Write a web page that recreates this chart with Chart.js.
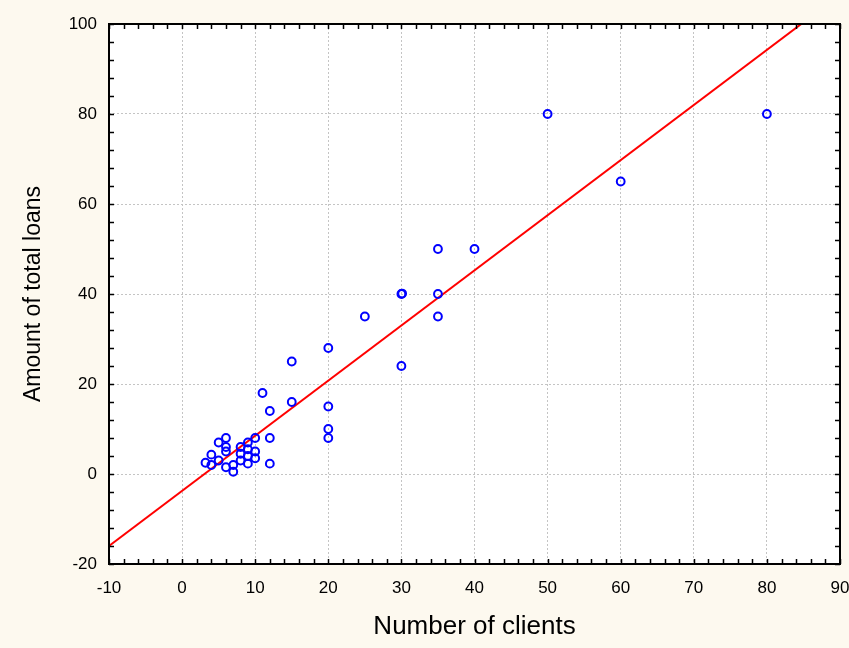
<!DOCTYPE html>
<html>
<head>
<meta charset="utf-8">
<script src="https://cdn.jsdelivr.net/npm/chart.js@4/dist/chart.umd.min.js"></script>
<style>
  html, body { margin: 0; padding: 0; background: #fdf9ef; }
  #wrap { width: 849px; height: 648px; position: relative; }
</style>
</head>
<body>
<div id="wrap"><canvas id="c" width="849" height="648"></canvas></div>
<script>
// Data
const clients = [50, 80, 60, 35, 40, 30, 30.1, 35, 25, 35, 30, 20, 15, 11, 15, 20, 12, 20, 20, 12, 10, 12, 10, 10, 9, 9, 9, 9, 8, 8, 8, 7, 7, 6, 6, 6, 6, 5, 5, 4, 4, 3.2];
const loans   = [80, 80, 65, 50, 50, 40, 40.1, 40, 35, 35, 24, 28, 25, 18, 16, 15, 14, 10, 8, 8, 8, 2.3, 5, 3.5, 7, 5.5, 4, 2.3, 6, 4.5, 3, 2, 0.5, 8, 6, 5, 1.5, 7, 3, 4.3, 2, 2.5];

// Fitted line: loans = intercept + slope * clients
const fitIntercept = -3.75;
const fitSlope = 1.225;

const xLimits = [-10, 90];
const yLimits = [-20, 100];
const xStep = 10, yStep = 20;
const xMinorStep = 2, yMinorStep = 4;

const points = clients.map((x, i) => ({ x: x, y: loans[i] }));
const fitLine = xLimits.map(x => ({ x: x, y: fitIntercept + fitSlope * x }));

const framePlugin = {
  id: 'frame',
  beforeDraw(chart) {
    const ctx = chart.ctx;
    ctx.save();
    ctx.fillStyle = '#fdf9ef';
    ctx.fillRect(0, 0, chart.width, chart.height);
    const a = chart.chartArea;
    ctx.fillStyle = '#ffffff';
    ctx.fillRect(a.left, a.top, a.right - a.left, a.bottom - a.top);
    ctx.restore();
  },
  afterDraw(chart) {
    const ctx = chart.ctx;
    const a = chart.chartArea;
    const xs = chart.scales.x, ys = chart.scales.y;
    ctx.save();
    ctx.strokeStyle = '#000000';
    ctx.lineWidth = 2;
    ctx.strokeRect(a.left, a.top, a.right - a.left, a.bottom - a.top);
    ctx.lineWidth = 1.5;
    const tl = 5;
    ctx.beginPath();
    for (let v = xLimits[0]; v <= xLimits[1] + 1e-9; v += xMinorStep) {
      const px = Math.round(xs.getPixelForValue(v)) + 0.5;
      ctx.moveTo(px, a.bottom); ctx.lineTo(px, a.bottom - tl);
      ctx.moveTo(px, a.top); ctx.lineTo(px, a.top + tl);
    }
    for (let v = yLimits[0]; v <= yLimits[1] + 1e-9; v += yMinorStep) {
      const py = Math.round(ys.getPixelForValue(v)) + 0.5;
      ctx.moveTo(a.left, py); ctx.lineTo(a.left + tl, py);
      ctx.moveTo(a.right, py); ctx.lineTo(a.right - tl, py);
    }
    ctx.stroke();
    ctx.restore();
  }
};

const tickFont = { family: '"Liberation Sans", Arial, sans-serif', size: 17 };

new Chart(document.getElementById('c'), {
  type: 'scatter',
  data: {
    datasets: [
      {
        label: 'Observations',
        data: points,
        showLine: false,
        pointStyle: 'circle',
        pointRadius: 3.9,
        pointHoverRadius: 3.9,
        pointBorderWidth: 2,
        pointBorderColor: '#0000ff',
        pointBackgroundColor: 'rgba(0,0,0,0)',
        order: 1
      },
      {
        label: 'Fit',
        type: 'line',
        data: fitLine,
        borderColor: '#ff0000',
        borderWidth: 2,
        pointRadius: 0,
        fill: false,
        tension: 0,
        clip: 0,
        order: 2
      }
    ]
  },
  options: {
    responsive: false,
    animation: false,
    devicePixelRatio: 1,
    layout: { padding: { left: 8, top: 24, right: 9, bottom: 4 } },
    plugins: { legend: { display: false }, tooltip: { enabled: false } },
    scales: {
      x: {
        type: 'linear',
        min: xLimits[0], max: xLimits[1],
        afterFit(scale) { scale.height = 80; scale.paddingRight = 0; scale.paddingLeft = 0; },
        ticks: { stepSize: xStep, color: '#000', font: tickFont, padding: 14, maxRotation: 0 },
        grid: { color: '#c4c4c4', lineWidth: 1, drawTicks: false },
        border: { display: false, dash: [2, 2] },
        title: {
          display: true, text: 'Number of clients', color: '#000',
          font: { family: '"Liberation Sans", Arial, sans-serif', size: 26 },
          padding: { top: 0, bottom: 2 }
        }
      },
      y: {
        type: 'linear',
        min: yLimits[0], max: yLimits[1],
        afterFit(scale) { scale.width = 101; scale.paddingTop = 0; scale.paddingBottom = 0; },
        ticks: { stepSize: yStep, color: '#000', font: tickFont, padding: 12 },
        grid: { color: '#c4c4c4', lineWidth: 1, drawTicks: false },
        border: { display: false, dash: [2, 2] },
        title: {
          display: true, text: 'Amount of total loans', color: '#000',
          font: { family: '"Liberation Sans", Arial, sans-serif', size: 23 },
          padding: { top: 12, bottom: 0 }
        }
      }
    }
  },
  plugins: [framePlugin]
});
</script>
</body>
</html>
